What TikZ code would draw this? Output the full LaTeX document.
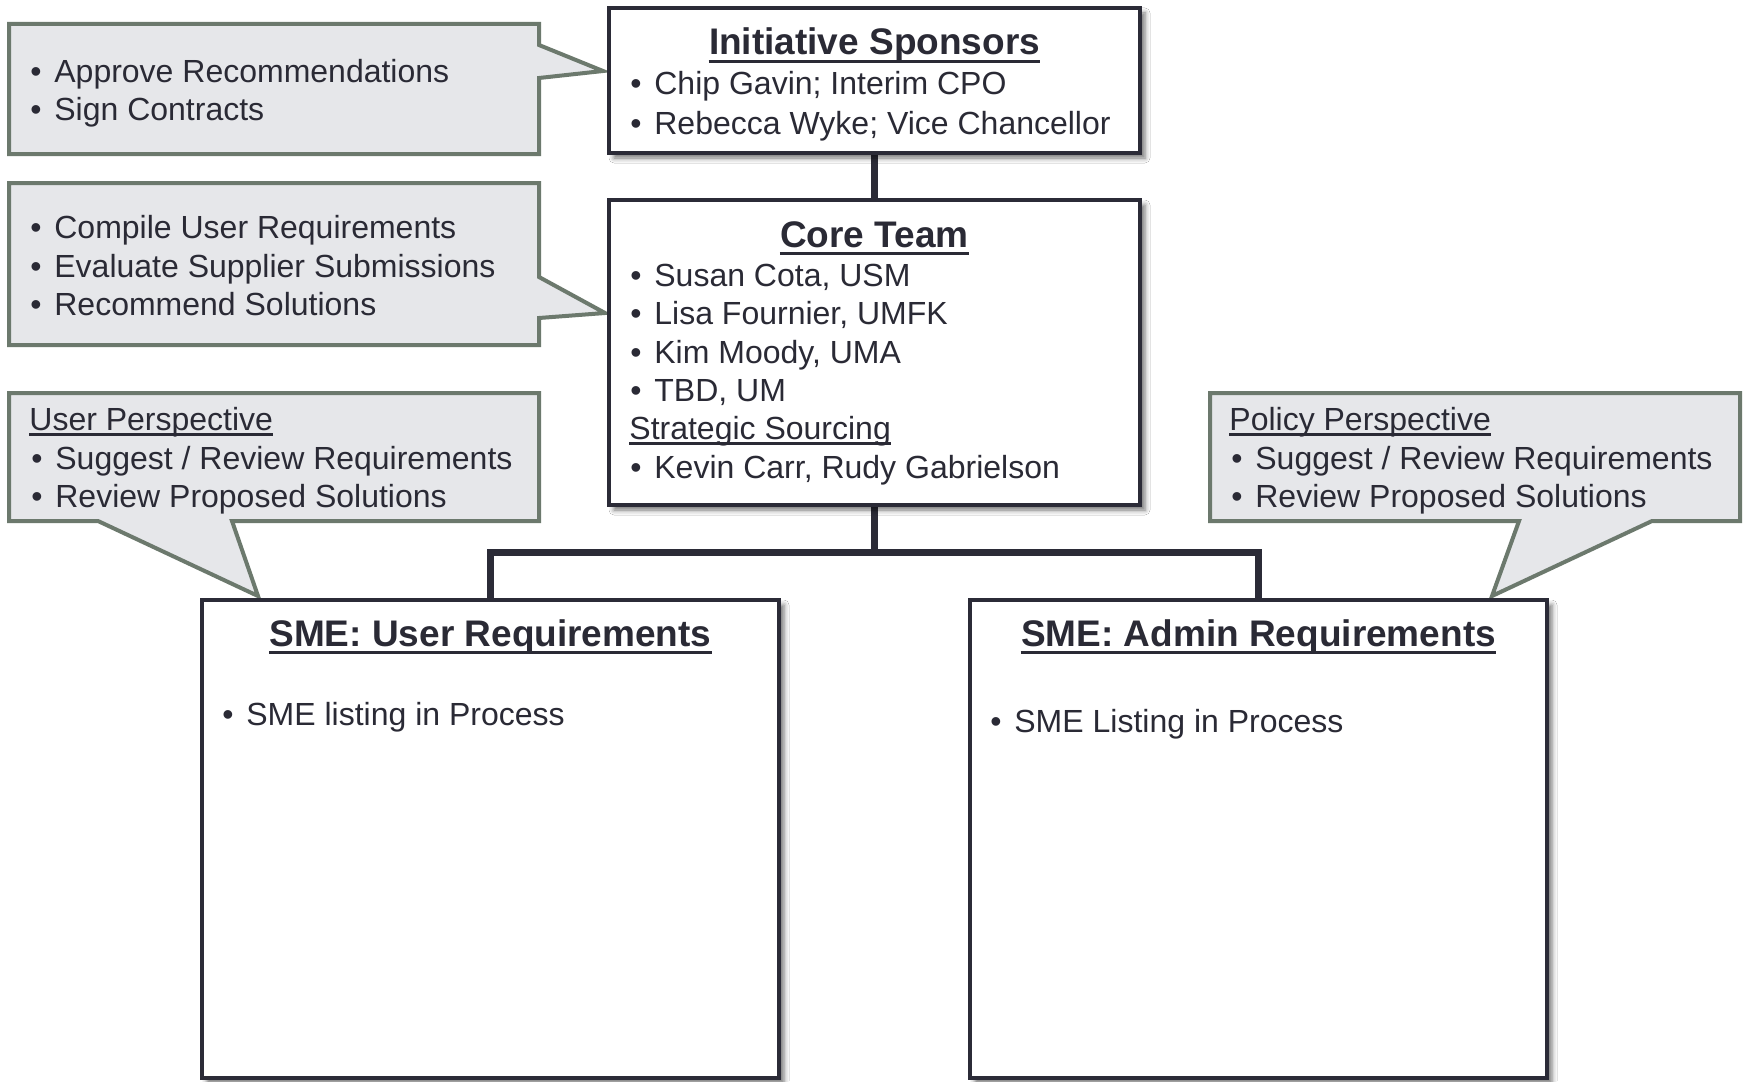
\documentclass[tikz,border=0pt]{standalone}
\usepackage{fontspec}
\setmainfont{Liberation Sans}
\usetikzlibrary{shadows.blur,backgrounds}

\definecolor{ink}{HTML}{2A2A35}
\definecolor{frame}{HTML}{2B2B37}
\definecolor{bubblefill}{HTML}{E6E7EA}
\definecolor{bubbleedge}{HTML}{6C796D}

% bullet item: bullet followed by a fixed indent
\newcommand{\itm}[1]{\makebox[12pt][l]{\textbullet}#1}

\tikzset{
  orgbox/.style={draw=frame, line width=2pt, fill=white, rectangle, inner sep=0pt,
    blur shadow={shadow xshift=2.5pt, shadow yshift=-2.5pt, shadow blur radius=2.5pt, shadow opacity=55}},
  link/.style={draw=frame, line width=3.5pt, line join=miter},
  bubble/.style={draw=bubbleedge, fill=bubblefill, line width=2pt, line join=miter},
  txt/.style={anchor=base west, inner sep=0pt, text=ink, font=\fontsize{16}{19}\selectfont},
  head/.style={anchor=base, inner sep=0pt, text=ink, font=\fontsize{18.5}{22}\selectfont\bfseries},
  headline/.style={draw=ink, line width=1.5pt},
  subline/.style={draw=ink, line width=1.2pt},
}

\begin{document}
\begin{tikzpicture}[x=0.5pt, y=-0.5pt]
\useasboundingbox (0,0) rectangle (1743,1081);

% ---- organisation boxes ----
\node[orgbox, minimum width=265.5pt, minimum height=72.5pt] (spons) at (874.5,80.5) {};
\node[orgbox, minimum width=265.5pt, minimum height=152.5pt] (core) at (874.5,352.5) {};
\node[orgbox, minimum width=288.5pt, minimum height=239pt] (smeU) at (490.5,839) {};
\node[orgbox, minimum width=288.5pt, minimum height=239pt] (smeA) at (1258.5,839) {};
\coordinate (bus) at (874.5,552);

\begin{scope}[on background layer]
  \fill[white] (0,0) rectangle (1743,1081);
  % speech bubbles with their pointers
  \path[bubble] (9,24) -- (539,24) -- (539,45) -- (603,71) -- (539,78) -- (539,154) -- (9,154) -- cycle;
  \path[bubble] (9,183) -- (539,183) -- (539,277) -- (605,313) -- (539,318) -- (539,345) -- (9,345) -- cycle;
  \path[bubble] (9,393) -- (539,393) -- (539,521) -- (232,521) -- (258,596) -- (98,521) -- (9,521) -- cycle;
  \path[bubble] (1210,393) -- (1740,393) -- (1740,521) -- (1652,521) -- (1492,596) -- (1519,521) -- (1210,521) -- cycle;
  % reporting lines
  \draw[link] (spons.south) -- (core.north);
  \draw[link] (core.south) -- (bus);
  \draw[link] (smeU.north) |- (bus) -| (smeA.north);
\end{scope}

% ---- bubble texts ----
\node[txt] (a1) at (30,83) {\itm{Approve Recommendations}};
\node[txt] (a2) at (30,120) {\itm{Sign Contracts}};

\node[txt] (b1) at (30,238) {\itm{Compile User Requirements}};
\node[txt] (b2) at (30,277) {\itm{Evaluate Supplier Submissions}};
\node[txt] (b3) at (30,315) {\itm{Recommend Solutions}};

\node[txt] (c0) at (29,430) {User Perspective};
\draw[subline] ([yshift=-2.3pt]c0.base west) -- ([yshift=-2.3pt]c0.base east);
\node[txt] (c1) at (31,469) {\itm{Suggest / Review Requirements}};
\node[txt] (c2) at (31,507) {\itm{Review Proposed Solutions}};

\node[txt] (d0) at (1229,430) {Policy Perspective};
\draw[subline] ([yshift=-2.3pt]d0.base west) -- ([yshift=-2.3pt]d0.base east);
\node[txt] (d1) at (1231,469) {\itm{Suggest / Review Requirements}};
\node[txt] (d2) at (1231,507) {\itm{Review Proposed Solutions}};

% ---- box texts ----
\node[head] (hs) at (874.5,55) {Initiative Sponsors};
\draw[headline] ([yshift=-3.2pt]hs.base west) -- ([yshift=-3.2pt]hs.base east);
\node[txt] (s1) at (630,95) {\itm{Chip Gavin; Interim CPO}};
\node[txt] (s2) at (630,134) {\itm{Rebecca Wyke; Vice Chancellor}};

\node[head] (hc) at (874.5,247) {Core Team};
\draw[headline] ([yshift=-3.2pt]hc.base west) -- ([yshift=-3.2pt]hc.base east);
\node[txt] (k1) at (630,286) {\itm{Susan Cota, USM}};
\node[txt] (k2) at (630,324) {\itm{Lisa Fournier, UMFK}};
\node[txt] (k3) at (630,363) {\itm{Kim Moody, UMA}};
\node[txt] (k4) at (630,401) {\itm{TBD, UM}};
\node[txt] (k5) at (629,439) {Strategic Sourcing};
\draw[subline] ([yshift=-2.3pt]k5.base west) -- ([yshift=-2.3pt]k5.base east);
\node[txt] (k6) at (630,478) {\itm{Kevin Carr, Rudy Gabrielson}};

\node[head] (hu) at (490.5,646) {SME: User Requirements};
\draw[headline] ([yshift=-3.2pt]hu.base west) -- ([yshift=-3.2pt]hu.base east);
\node[txt] (u1) at (222,725) {\itm{SME listing in Process}};

\node[head] (ha) at (1258.5,646) {SME: Admin Requirements};
\draw[headline] ([yshift=-3.2pt]ha.base west) -- ([yshift=-3.2pt]ha.base east);
\node[txt] (m1) at (990,732) {\itm{SME Listing in Process}};
\end{tikzpicture}
\end{document}
